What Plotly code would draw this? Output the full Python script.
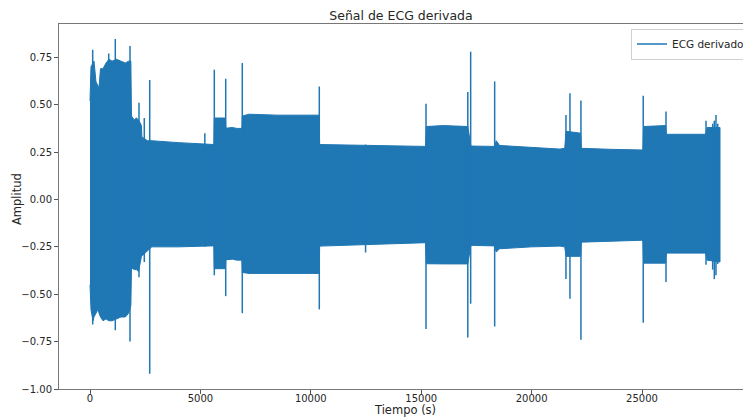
import plotly.graph_objects as go

# Envelope of the derived ECG signal: time (s), upper and lower amplitude
env_t = [0, 45, 136, 181, 272, 362, 408, 475, 589, 725, 860, 1000, 1200, 1400,
         1600, 1750, 1850, 1880, 2000, 2100, 2200, 2330, 2350, 2600, 2800, 4000,
         5500, 5610, 5630, 6130, 6150, 6450, 6650, 6880, 6900, 7200, 8500,
         10370, 10400, 12000, 13500, 15200, 15230, 16000, 17110, 17250, 18320,
         18400, 18550, 20000, 21284, 21500, 21560, 22220, 22250, 23500, 25040,
         25070, 26070, 26100, 27000, 27880, 27950, 28533]
env_up = [0.52, 0.70, 0.72, 0.73, 0.62, 0.60, 0.59, 0.69, 0.69, 0.72, 0.74, 0.73,
          0.74, 0.73, 0.72, 0.73, 0.73, 0.44, 0.42, 0.43, 0.42, 0.39, 0.33, 0.31,
          0.31, 0.30, 0.29, 0.29, 0.43, 0.43, 0.376, 0.38, 0.375, 0.375, 0.44,
          0.45, 0.445, 0.445, 0.29, 0.287, 0.285, 0.28, 0.385, 0.39, 0.385,
          0.282, 0.28, 0.31, 0.285, 0.275, 0.266, 0.27, 0.36, 0.35, 0.27, 0.265,
          0.261, 0.385, 0.39, 0.344, 0.344, 0.344, 0.38, 0.38]
env_lo = [-0.45, -0.58, -0.64, -0.62, -0.60, -0.58, -0.60, -0.62, -0.64, -0.63,
          -0.64, -0.64, -0.63, -0.62, -0.62, -0.60, -0.56, -0.36, -0.37, -0.37,
          -0.38, -0.30, -0.30, -0.27, -0.25, -0.25, -0.245, -0.245, -0.365,
          -0.365, -0.318, -0.315, -0.32, -0.32, -0.385, -0.39, -0.39, -0.39,
          -0.246, -0.24, -0.235, -0.228, -0.339, -0.34, -0.34, -0.242, -0.245,
          -0.277, -0.26, -0.25, -0.246, -0.25, -0.30, -0.30, -0.225, -0.22,
          -0.215, -0.336, -0.336, -0.283, -0.283, -0.283, -0.32, -0.33]

# Isolated transients: time (s), peak high and peak low
spike_t = [122, 847, 1146, 1812, 2219, 2459, 2704, 5200, 5630, 6146, 6897,
           10385, 12480, 15218, 17110, 17240, 18327, 21556, 21737, 22235,
           25056, 26087, 27899, 28200, 28274, 28350, 28430]
spike_hi = [0.79, 0.77, 0.847, 0.81, 0.51, 0.43, 0.63, 0.35, 0.685, 0.637, 0.72,
            0.596, 0.29, 0.505, 0.567, 0.78, 0.623, 0.446, 0.56, 0.522, 0.547,
            0.464, 0.416, 0.40, 0.416, 0.446, 0.40]
spike_lo = [-0.66, -0.64, -0.69, -0.75, -0.41, -0.33, -0.92, -0.25, -0.40, -0.51,
            -0.60, -0.58, -0.28, -0.683, -0.728, -0.55, -0.67, -0.42, -0.524,
            -0.74, -0.65, -0.436, -0.344, -0.37, -0.42, -0.40, -0.34]

x_ticks = [0, 5000, 10000, 15000, 20000, 25000]
y_ticks = [-1.00, -0.75, -0.50, -0.25, 0.00, 0.25, 0.50, 0.75]

BLUE = "#1f77b4"

band_x = env_t + env_t[::-1]
band_y = env_up + env_lo[::-1]

sx, sy = [], []
for t, hi, lo in zip(spike_t, spike_hi, spike_lo):
    sx += [t, t, None]
    sy += [hi, lo, None]

fig = go.Figure()
fig.add_trace(go.Scatter(x=band_x, y=band_y, mode="lines", fill="toself",
                         fillcolor=BLUE, line=dict(color=BLUE, width=1),
                         showlegend=False, legendgroup="ecg", hoverinfo="skip"))
fig.add_trace(go.Scatter(x=sx, y=sy, mode="lines", name="ECG derivado",
                         line=dict(color=BLUE, width=1.5), legendgroup="ecg"))

W, H = 743, 417
L, R, T, B = 59, 0, 24, 28
PW, PH = W - L - R, H - T - B

fig.update_layout(
    width=W, height=H,
    margin=dict(l=L, r=R, t=T, b=B, autoexpand=False),
    paper_bgcolor="white", plot_bgcolor="white",
    font=dict(family="DejaVu Sans", color="#262626", size=10),
    title=dict(text="Señal de ECG derivada", x=0.5, xref="paper",
               y=1 - 16 / H, yanchor="middle", font=dict(size=12.5)),
    xaxis=dict(range=[-1404, 29574], tickvals=x_ticks, tickformat="d",
               ticks="outside", ticklen=4, tickcolor="#555", showline=True,
               linecolor="#777", linewidth=1, mirror=True, showgrid=False,
               zeroline=False, tickfont=dict(size=10), ticklabelstandoff=-4),
    yaxis=dict(range=[-1.0, 0.926], tickvals=y_ticks, tickformat=".2f",
               ticks="outside", ticklen=4, tickcolor="#555", showline=True,
               linecolor="#777", linewidth=1, showgrid=False, zeroline=False,
               tickfont=dict(size=10)),
    legend=dict(x=(631 - L) / PW, y=1 - (28.5 - T) / PH,
                xanchor="left", yanchor="top", bgcolor="rgba(255,255,255,0.8)",
                bordercolor="#d0d0d0", borderwidth=1, font=dict(size=10.5)),
    annotations=[
        dict(text="Tiempo (s)", x=(405 - L) / PW, y=-(410 - (H - B)) / PH,
             xref="paper", yref="paper", showarrow=False, yanchor="middle",
             font=dict(size=11.5)),
        dict(text="Amplitud", x=-(L - 17) / PW, y=((H - B) - 199) / PH,
             xref="paper", yref="paper", showarrow=False, textangle=-90,
             xanchor="center", yanchor="middle", font=dict(size=11.5)),
    ],
)

fig.write_html("out.html")
